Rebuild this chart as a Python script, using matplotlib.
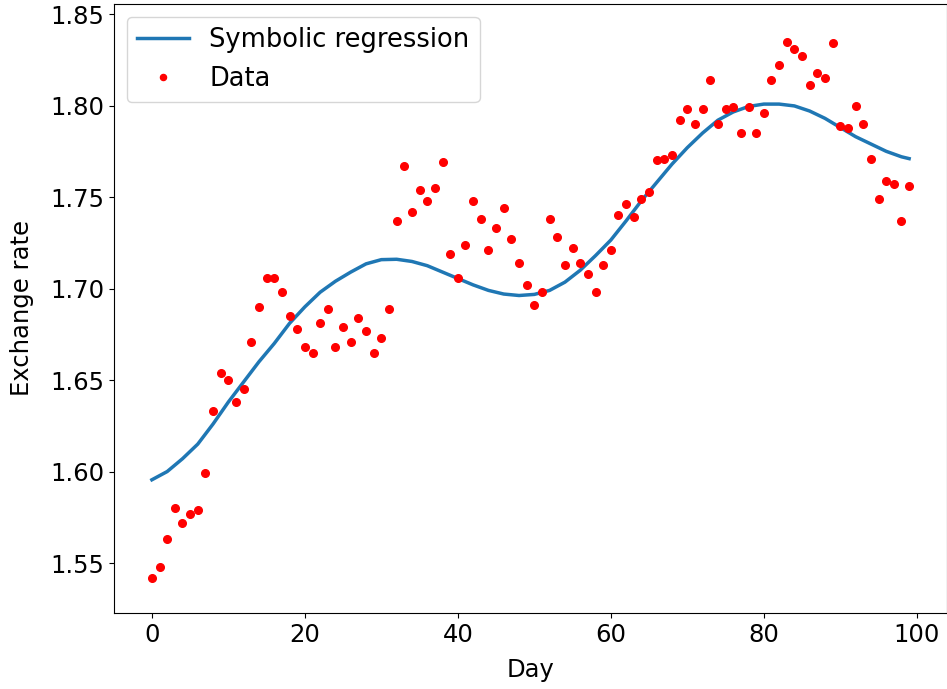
import numpy as np
import matplotlib
matplotlib.use('Agg')
import matplotlib.pyplot as plt

# observed exchange rate, one value per day
days = np.arange(100)
rate = [1.542, 1.548, 1.563, 1.580, 1.572, 1.577, 1.579, 1.599, 1.633, 1.654,
        1.650, 1.638, 1.645, 1.671, 1.690, 1.706, 1.706, 1.698, 1.685, 1.678,
        1.668, 1.665, 1.681, 1.689, 1.668, 1.679, 1.671, 1.684, 1.677, 1.665,
        1.673, 1.689, 1.737, 1.767, 1.742, 1.754, 1.748, 1.755, 1.769, 1.719,
        1.706, 1.724, 1.748, 1.738, 1.721, 1.733, 1.744, 1.727, 1.714, 1.702,
        1.691, 1.698, 1.738, 1.728, 1.713, 1.722, 1.714, 1.708, 1.698, 1.713,
        1.721, 1.740, 1.746, 1.739, 1.749, 1.753, 1.770, 1.771, 1.773, 1.792,
        1.798, 1.790, 1.798, 1.814, 1.790, 1.798, 1.799, 1.785, 1.799, 1.785,
        1.796, 1.814, 1.822, 1.835, 1.831, 1.827, 1.811, 1.818, 1.815, 1.834,
        1.789, 1.788, 1.800, 1.790, 1.771, 1.749, 1.759, 1.757, 1.737, 1.756]

# fitted curve
fit_days = [0, 2, 4, 6, 8, 10, 12, 14, 16, 18, 20, 22, 24, 26, 28, 30, 32, 34,
            36, 38, 40, 42, 44, 46, 48, 50, 52, 54, 56, 58, 60, 62, 64, 66, 68,
            70, 72, 74, 76, 78, 80, 82, 84, 86, 88, 90, 92, 94, 96, 98, 99]
fit_vals = [1.5955, 1.600, 1.607, 1.615, 1.626, 1.638, 1.649, 1.660, 1.670,
            1.681, 1.690, 1.698, 1.704, 1.709, 1.7135, 1.7158, 1.716, 1.7148,
            1.7125, 1.709, 1.7055, 1.702, 1.699, 1.697, 1.6962, 1.6968, 1.699,
            1.7035, 1.710, 1.718, 1.7265, 1.737, 1.748, 1.758, 1.768, 1.777,
            1.785, 1.792, 1.7965, 1.7995, 1.8008, 1.8008, 1.7998, 1.797, 1.793,
            1.788, 1.783, 1.779, 1.775, 1.772, 1.771]

fig = plt.figure(figsize=(9.47, 6.89), dpi=100)
ax = fig.add_axes([0.1204, 0.1103, 0.8796, 0.8839])

ax.plot(fit_days, fit_vals, color='#1f77b4', linewidth=2.5, label='Symbolic regression')
ax.plot(days, rate, 'o', color='red', markersize=5.5, label='Data')

ax.set_ylim(1.5227, 1.8555)
ax.set_xlabel('Day', fontsize=17.5, labelpad=8)
ax.set_ylabel('Exchange rate', fontsize=17.5, labelpad=12)
ax.tick_params(labelsize=17.5)
ax.legend(loc='upper left', fontsize=18.5, markerscale=0.8)

fig.savefig('out.png', dpi=100)
